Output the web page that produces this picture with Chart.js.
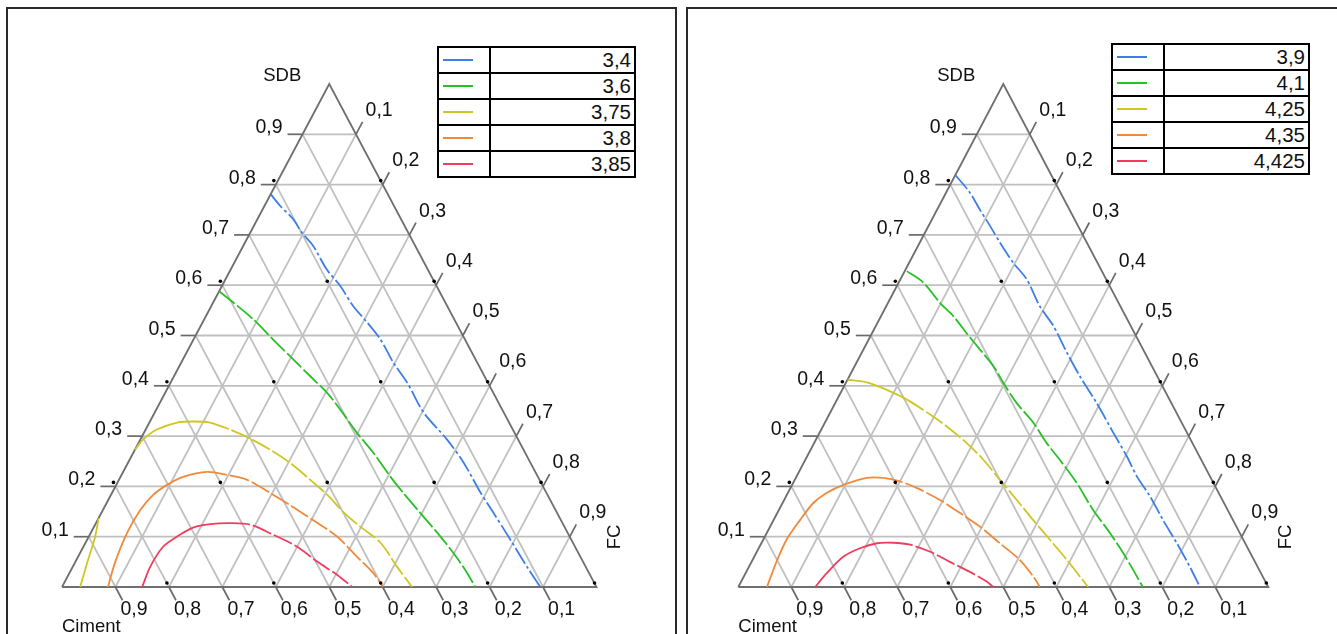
<!DOCTYPE html>
<html>
<head>
<meta charset="utf-8">
<script src="https://cdn.jsdelivr.net/npm/chart.js@4.4.1/dist/chart.umd.min.js"></script>
<style>
  html,body{margin:0;padding:0;background:#fff;width:1337px;height:634px;overflow:hidden;font-family:"Liberation Sans",Arial,sans-serif;}
  canvas{position:absolute;top:0;}
  .panel{position:absolute;box-sizing:border-box;border-top:2px solid #2a2a2a;border-left:2px solid #2a2a2a;border-right:2px solid #2a2a2a;}
  table.leg{position:absolute;border-collapse:collapse;z-index:5;background:#fff;}
  table.leg td{border:2px solid #000;height:24px;padding:0;font-size:20.5px;line-height:24px;color:#111;}
  table.leg td.val{text-align:right;padding-right:3px;}
  .sw{width:30px;height:2px;margin-left:4px;}
</style>
</head>
<body>
<div class="panel" style="left:6px;top:7px;width:671px;height:700px;"></div>
<div class="panel" style="left:686px;top:7px;width:660px;height:700px;"></div>
<canvas id="c1" width="680" height="634" style="left:0px"></canvas>
<canvas id="c2" width="657" height="634" style="left:680px"></canvas>
<table class="leg" id="leg1" style="left:437px;top:46px;width:199px;"></table>
<table class="leg" id="leg2" style="left:1111px;top:43px;width:199px;"></table>
<script>
// ---------------- DATA ----------------
// Tick values and labels (shared by the three ternary axes)
const tickValues = [0.1,0.2,0.3,0.4,0.5,0.6,0.7,0.8,0.9];
const tickLabels = ['0,1','0,2','0,3','0,4','0,5','0,6','0,7','0,8','0,9'];
const axisTitles = ['SDB','Ciment','FC'];

// Contour levels
const leftLevels  = ['3,4','3,6','3,75','3,8','3,85'];
const rightLevels = ['3,9','4,1','4,25','4,35','4,425'];
const levelColors = ['#3d7fe6','#27c127','#cfc623','#f08a3a','#ee3d5e'];

// Contour curves as [SDB fraction, FC fraction] pairs (Ciment = 1 - SDB - FC)
const L_34 = [[0.781,0],[0.758,0.029],[0.731,0.067],[0.705,0.096],[0.678,0.131],[0.631,0.180],[0.598,0.222],[0.558,0.266],[0.526,0.308],[0.492,0.350],[0.446,0.397],[0.406,0.443],[0.347,0.503],[0.293,0.574],[0.247,0.628],[0.187,0.690],[0.147,0.734],[0.094,0.792],[0.040,0.850],[0,0.895]];
const L_36 = [[0.588,0],[0.566,0.037],[0.532,0.092],[0.492,0.149],[0.459,0.197],[0.419,0.255],[0.386,0.303],[0.353,0.344],[0.307,0.398],[0.267,0.449],[0.220,0.504],[0.187,0.545],[0.147,0.597],[0.108,0.648],[0.068,0.698],[0.028,0.744],[0,0.773]];
const L_375a = [[0.273,0],[0.293,0.005],[0.313,0.021],[0.327,0.052],[0.329,0.081],[0.327,0.113],[0.313,0.158],[0.297,0.200],[0.273,0.253],[0.247,0.303],[0.213,0.358],[0.183,0.405],[0.149,0.452],[0.120,0.498],[0.088,0.552],[0.040,0.607],[0,0.655]];
const L_375b = [[0,0.034],[0.048,0.023],[0.100,0.012],[0.137,0]];
const L_38 = [[0,0.086],[0.048,0.075],[0.108,0.068],[0.153,0.070],[0.183,0.079],[0.203,0.095],[0.219,0.117],[0.229,0.157],[0.223,0.197],[0.213,0.240],[0.187,0.296],[0.163,0.345],[0.133,0.403],[0.100,0.465],[0.060,0.522],[0.028,0.568],[0,0.601]];
const L_385 = [[0,0.150],[0.040,0.145],[0.080,0.149],[0.100,0.165],[0.118,0.186],[0.125,0.215],[0.127,0.251],[0.124,0.290],[0.104,0.343],[0.080,0.400],[0.050,0.453],[0.024,0.503],[0,0.543]];

const R_39 = [[0.819,0],[0.784,0.045],[0.749,0.082],[0.718,0.116],[0.685,0.151],[0.645,0.196],[0.612,0.238],[0.558,0.290],[0.519,0.335],[0.466,0.387],[0.419,0.435],[0.366,0.493],[0.306,0.555],[0.260,0.603],[0.220,0.642],[0.180,0.687],[0.133,0.735],[0.087,0.784],[0.040,0.832],[0,0.871]];
const R_41 = [[0.628,0.004],[0.605,0.047],[0.565,0.098],[0.538,0.137],[0.505,0.178],[0.472,0.220],[0.439,0.262],[0.406,0.297],[0.366,0.342],[0.326,0.394],[0.286,0.439],[0.253,0.480],[0.207,0.535],[0.153,0.593],[0.107,0.648],[0.067,0.693],[0.034,0.728],[0,0.763]];
const R_425 = [[0.412,0],[0.407,0.039],[0.392,0.084],[0.373,0.131],[0.339,0.198],[0.319,0.234],[0.286,0.288],[0.253,0.336],[0.213,0.387],[0.173,0.439],[0.133,0.490],[0.094,0.541],[0.054,0.593],[0.021,0.634],[0,0.660]];
const R_435 = [[0,0.054],[0.050,0.047],[0.094,0.044],[0.133,0.050],[0.167,0.058],[0.187,0.073],[0.203,0.097],[0.217,0.134],[0.217,0.165],[0.210,0.200],[0.197,0.238],[0.173,0.294],[0.147,0.345],[0.120,0.396],[0.087,0.450],[0.054,0.504],[0.021,0.546],[0,0.569]];
const R_4425 = [[0,0.145],[0.027,0.153],[0.060,0.168],[0.077,0.191],[0.087,0.218],[0.088,0.248],[0.084,0.282],[0.070,0.327],[0.050,0.374],[0.030,0.422],[0.011,0.463],[0,0.481]];

// ---------------- HELPERS ----------------
// ternary (SDB, FC) -> cartesian (x along base Ciment->FC, y = height toward SDB)
function tern(S, F){ return {x: F + S/2, y: S}; }

function buildDatasets(curves){
  const ds = [];
  const dots = [];
  for(let i=0;i<=5;i++) for(let j=0;j<=5-i;j++){
    const p = tern(i/5, j/5);
    dots.push({x:p.x-0.0037, y:p.y+0.008});
  }
  ds.push({type:'scatter', data:dots, pointRadius:1.8, pointHoverRadius:1.8, backgroundColor:'#000', borderWidth:0, order:0, clip:false});
  curves.forEach(c=>{
    ds.push({
      type:'line', data:c.pts.map(p=>tern(p[0],p[1])), borderColor:levelColors[c.level], borderWidth:1.8,
      pointRadius:0, fill:false, tension:0.3, order:1, borderDash:c.dash,
      segment:{borderDash: ctx => (ctx.p0DataIndex < c.solidTo ? [] : c.dash)}
    });
  });
  ds.push({type:'line', data:[tern(0,0),tern(0,1),tern(1,0),tern(0,0)], borderColor:'#6f6f6f', borderWidth:1.8, pointRadius:0, order:2, tension:0, clip:false});
  tickValues.forEach(k=>{
    [[tern(k,0),tern(k,1-k)],[tern(0,k),tern(1-k,k)],[tern(0,1-k),tern(1-k,0)]].forEach(seg=>{
      ds.push({type:'line', data:seg, borderColor:'#c0c0c0', borderWidth:1.8, pointRadius:0, order:3, tension:0});
    });
  });
  return ds;
}

const ternaryDecor = {
  id:'ternaryDecor',
  afterDraw(chart){
    const {ctx} = chart; const xs = chart.scales.x, ys = chart.scales.y;
    const P = (S,F)=>{const t=tern(S,F); return {x:xs.getPixelForValue(t.x), y:ys.getPixelForValue(t.y)};};
    const L=P(0,0), R=P(0,1), A=P(1,0);
    const nrm=(a,b)=>{const dx=b.x-a.x, dy=b.y-a.y, l=Math.hypot(dx,dy); return {x:dx/l,y:dy/l};};
    const up=nrm(L,A), down=nrm(A,R);
    ctx.save();
    ctx.strokeStyle='#6a6a6a'; ctx.lineWidth=1.7; ctx.fillStyle='#111';
    ctx.font='19.5px "Liberation Sans", Arial, sans-serif';
    tickValues.forEach((k,i)=>{
      const lab = tickLabels[i];
      let p=P(k,0);
      ctx.beginPath(); ctx.moveTo(p.x,p.y); ctx.lineTo(p.x-15,p.y); ctx.stroke();
      ctx.textAlign='right'; ctx.textBaseline='alphabetic';
      ctx.fillText(lab, p.x-20, p.y-1);
      p=P(1-k,k); let e={x:p.x+up.x*14, y:p.y+up.y*14};
      ctx.beginPath(); ctx.moveTo(p.x,p.y); ctx.lineTo(e.x,e.y); ctx.stroke();
      ctx.textAlign='left'; ctx.fillText(lab, e.x+3, e.y-6);
      p=P(0,1-k); e={x:p.x+down.x*15, y:p.y+down.y*15};
      ctx.beginPath(); ctx.moveTo(p.x,p.y); ctx.lineTo(e.x,e.y); ctx.stroke();
      ctx.textAlign='left'; ctx.fillText(lab, e.x-2, e.y+15);
    });
    ctx.font='18.5px "Liberation Sans", Arial, sans-serif';
    ctx.textAlign='right'; ctx.fillText(axisTitles[0], A.x-28, A.y-3);
    ctx.textAlign='left'; ctx.fillText(axisTitles[1], L.x, L.y+45);
    ctx.save(); ctx.translate(R.x+18, R.y-50); ctx.rotate(-Math.PI/2);
    ctx.textAlign='center'; ctx.textBaseline='middle'; ctx.fillText(axisTitles[2],0,0); ctx.restore();
    ctx.restore();
  }
};

function makeChart(id, curves, pad){
  return new Chart(document.getElementById(id), {
    type:'scatter',
    data:{datasets:buildDatasets(curves)},
    options:{
      responsive:false, animation:false, devicePixelRatio:1,
      layout:{padding:pad},
      plugins:{legend:{display:false}, tooltip:{enabled:false}},
      events:[],
      scales:{
        x:{type:'linear', min:0, max:1, display:false},
        y:{type:'linear', min:0, max:1, display:false}
      }
    },
    plugins:[ternaryDecor]
  });
}

const DASH = [20,3];
const DASH_DOT = [18,3,3,3];
makeChart('c1', [
  {level:0, pts:L_34,  dash:DASH_DOT, solidTo:0},
  {level:1, pts:L_36,  dash:DASH, solidTo:0},
  {level:2, pts:L_375a, dash:DASH, solidTo:5},
  {level:2, pts:L_375b, dash:DASH, solidTo:10},
  {level:3, pts:L_38,  dash:DASH, solidTo:7},
  {level:4, pts:L_385, dash:DASH, solidTo:6}
], {left:62, right:83.5, top:84, bottom:47});

makeChart('c2', [
  {level:0, pts:R_39,  dash:DASH_DOT, solidTo:0},
  {level:1, pts:R_41,  dash:DASH, solidTo:0},
  {level:2, pts:R_425, dash:DASH, solidTo:3},
  {level:3, pts:R_435, dash:DASH, solidTo:8},
  {level:4, pts:R_4425, dash:DASH, solidTo:5}
], {left:58.3, right:68.7, top:84, bottom:47});

function buildLegend(id, levels){
  const t=document.getElementById(id);
  levels.forEach((lv,i)=>{
    const tr=document.createElement('tr');
    const td1=document.createElement('td'); td1.style.width='50px';
    const sw=document.createElement('div'); sw.className='sw'; sw.style.background=levelColors[i]; td1.appendChild(sw);
    const td2=document.createElement('td'); td2.className='val'; td2.textContent=lv;
    tr.appendChild(td1); tr.appendChild(td2); t.appendChild(tr);
  });
}
buildLegend('leg1', leftLevels);
buildLegend('leg2', rightLevels);
</script>
</body>
</html>
